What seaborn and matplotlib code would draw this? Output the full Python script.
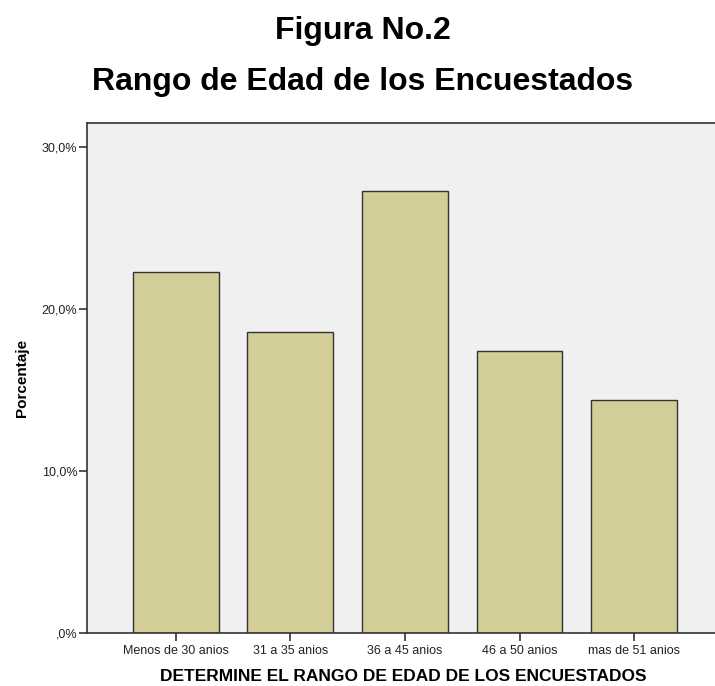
import pandas as pd
import matplotlib.pyplot as plt
import seaborn as sns
from matplotlib.ticker import FuncFormatter

# Datos
rangos = ['Menos de 30 anios', '31 a 35 anios', '36 a 45 anios', '46 a 50 anios', 'mas de 51 anios']
porcentaje = [22.3, 18.6, 27.3, 17.4, 14.4]

df = pd.DataFrame({'rango': rangos, 'porcentaje': porcentaje})

sns.set_style('white')
plt.rcParams['font.family'] = ['Liberation Sans', 'DejaVu Sans']
plt.rcParams['text.color'] = 'black'
plt.rcParams['axes.labelcolor'] = 'black'

fig = plt.figure(figsize=(7.15, 6.86), dpi=100)
ax = fig.add_axes([87/715, 53/686, 633/715, 510/686])
ax.set_facecolor('#F0F0F0')

sns.barplot(data=df, x='rango', y='porcentaje', color='#D3CE98',
            edgecolor='#333333', linewidth=1, width=0.75, saturation=1, ax=ax)

ax.set_xlim(-0.776, 4.75)
ax.set_ylim(0, 31.5)
ax.set_yticks([0, 10, 20, 30])
ax.yaxis.set_major_formatter(FuncFormatter(lambda v, p: ',0%' if v == 0 else f'{v:.1f}%'.replace('.', ',')))

for s in ['left', 'bottom', 'top']:
    ax.spines[s].set_color('#333333')
    ax.spines[s].set_linewidth(1.2)
ax.spines['right'].set_visible(False)

ax.tick_params(axis='both', bottom=True, left=True, direction='out', length=6, width=1.2,
               color='#333333', labelcolor='#222222')
ax.tick_params(axis='x', labelsize=9, pad=3)
ax.tick_params(axis='y', labelsize=9, pad=1)

ax.set_xlabel('DETERMINE EL RANGO DE EDAD DE LOS ENCUESTADOS', fontsize=12.5, fontweight='bold', labelpad=8)
ax.set_ylabel('Porcentaje', fontsize=11, fontweight='bold', labelpad=9)

fig.text(0.507, 0.955, 'Figura No.2', ha='center', va='center', fontsize=23, fontweight='bold')
fig.text(0.507, 0.880, 'Rango de Edad de los Encuestados', ha='center', va='center', fontsize=23, fontweight='bold')

plt.savefig('out.png', dpi=100)
